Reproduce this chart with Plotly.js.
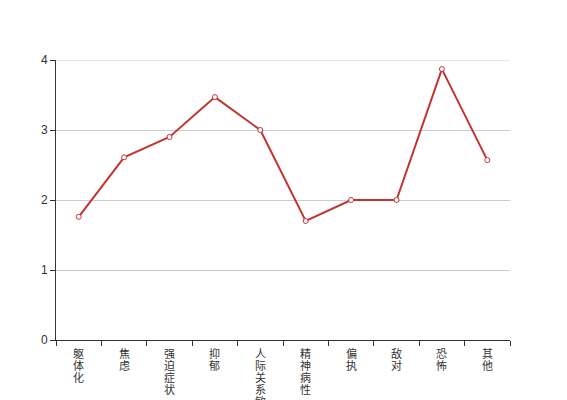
<!DOCTYPE html>
<html><head><meta charset="utf-8">
<script src="https://cdn.plot.ly/plotly-3.0.1.min.js"></script>
<style>html,body{margin:0;padding:0;background:#fff}#c{width:567px;height:400px}</style>
</head><body><div id="c"></div>
<script>
const categories = ['躯体化','焦虑','强迫症状','抑郁','人际关系敏感','精神病性','偏执','敌对','恐怖','其他'];
const values = [1.76, 2.61, 2.90, 3.47, 3.00, 1.70, 2.00, 2.00, 3.87, 2.57];
const yTicks = [0, 1, 2, 3, 4];

const annotations = [];
categories.forEach(function(cat){
  Array.from(cat).forEach(function(ch, j){
    annotations.push({
      xref:'x', yref:'paper', x:cat, y:0, yanchor:'middle', xanchor:'center',
      yshift: -(13 + j*12), text: ch, showarrow:false, height:12, borderpad:0,
      font:{family:'"Noto Sans CJK SC", sans-serif', size:11, color:'#333'}
    });
  });
});

Plotly.newPlot('c', [{
  x: categories, y: values, type:'scatter', mode:'lines+markers',
  line:{color:'#c23531', width:2},
  marker:{symbol:'circle', size:5, color:'#fff', line:{color:'#c23531', width:1}},
  hoverinfo:'none'
}], {
  width:567, height:400,
  margin:{l:56, r:57, t:60, b:60},
  paper_bgcolor:'#fff', plot_bgcolor:'#fff',
  showlegend:false,
  font:{family:'"Liberation Sans", Arial, sans-serif', size:12, color:'#333'},
  xaxis:{type:'category', range:[-0.5, 9.5], showgrid:false, showline:true, linecolor:'#333', linewidth:1,
    ticks:'outside', tickson:'boundaries', ticklen:5, tickcolor:'#333',
    showticklabels:false, zeroline:false, fixedrange:true},
  yaxis:{range:[0, 4], tickvals:yTicks, showgrid:true, gridcolor:'#ccc', gridwidth:1,
    showline:true, linecolor:'#333', linewidth:1, ticks:'outside', ticklen:5, tickcolor:'#333',
    zeroline:false, tickfont:{size:12, color:'#333'}, fixedrange:true},
  shapes:[{type:'line', xref:'paper', yref:'y', x0:0, x1:1, y0:yTicks[yTicks.length-1], y1:yTicks[yTicks.length-1],
    line:{color:'#ccc', width:1}, layer:'below'}],
  annotations: annotations
}, {staticPlot:true});
</script></body></html>
